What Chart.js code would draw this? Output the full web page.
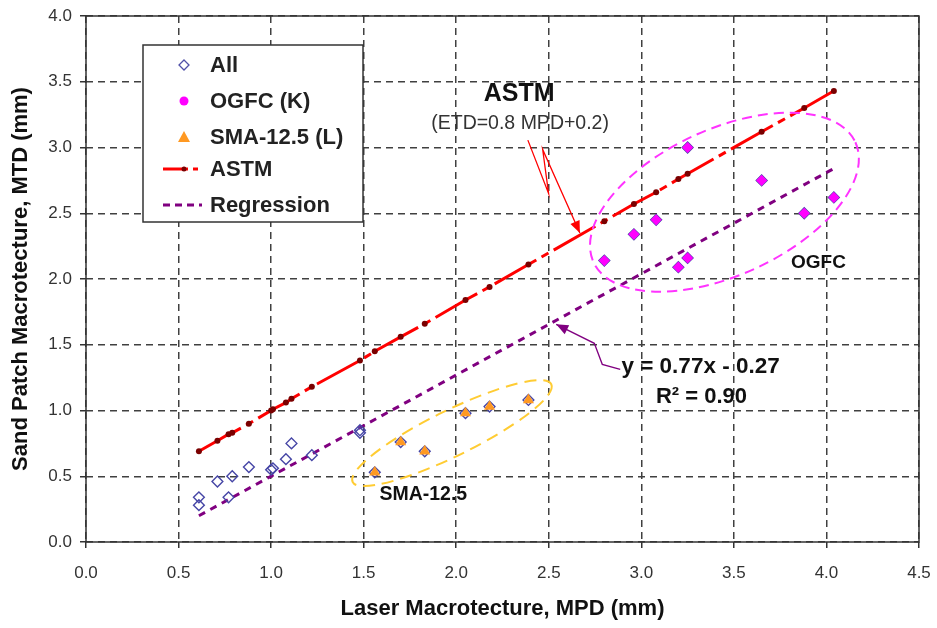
<!DOCTYPE html>
<html><head><meta charset="utf-8">
<script src="https://cdn.jsdelivr.net/npm/chart.js@4"></script>
<style>html,body{margin:0;padding:0;background:#fff}#wrap{width:937px;height:628px}</style>
</head><body><div id="wrap"><canvas id="c" width="937" height="628"></canvas></div>
<script>
// ---------------- data ----------------
const allOnlyMPD = [0.61, 0.61, 0.71, 0.77, 0.79, 0.88, 1.00, 1.01, 1.08, 1.11, 1.22, 1.48, 1.48];
const allOnlyMTD = [0.34, 0.28, 0.46, 0.34, 0.50, 0.57, 0.55, 0.56, 0.63, 0.75, 0.66, 0.83, 0.85];
const ogfcMPD = [2.80, 2.96, 3.08, 3.20, 3.25, 3.25, 3.65, 3.88, 4.04];
const ogfcMTD = [2.14, 2.34, 2.45, 2.09, 2.16, 3.00, 2.75, 2.50, 2.62];
const smaMPD = [1.56, 1.70, 1.83, 2.05, 2.18, 2.39];
const smaMTD = [0.53, 0.76, 0.69, 0.98, 1.03, 1.08];
const astmMPD = [0.61, 0.71, 0.77, 0.79, 0.88, 1.00, 1.01, 1.08, 1.11, 1.22, 1.48, 1.56, 1.70, 1.83, 2.05, 2.18, 2.39, 2.80, 2.96, 3.08, 3.20, 3.25, 3.65, 3.88, 4.04];
const astmMTD = [0.69, 0.77, 0.82, 0.83, 0.90, 1.00, 1.01, 1.06, 1.09, 1.18, 1.38, 1.45, 1.56, 1.66, 1.84, 1.94, 2.11, 2.44, 2.57, 2.66, 2.76, 2.80, 3.12, 3.30, 3.43];
const regMPD = [0.61, 4.04];
const regMTD = [0.20, 2.84];
const xTickLabels = ['0.0','0.5','1.0','1.5','2.0','2.5','3.0','3.5','4.0','4.5'];
const yTickLabels = ['0.0','0.5','1.0','1.5','2.0','2.5','3.0','3.5','4.0'];
const seriesNames = ['All', 'OGFC (K)', 'SMA-12.5 (L)', 'ASTM', 'Regression'];
const xTitle = 'Laser Macrotecture, MPD (mm)';
const yTitle = 'Sand Patch Macrotecture, MTD (mm)';

// ---------------- build ----------------
const pts = (xs, ys) => xs.map((x, i) => ({x, y: ys[i]}));
const allMPD = allOnlyMPD.concat(ogfcMPD, smaMPD);
const allMTD = allOnlyMTD.concat(ogfcMTD, smaMTD);

const FONT = '"Liberation Sans", Arial, sans-serif';

// annotations (placed in data coordinates)
const notes = {
  astmTitle: {x: 2.34, y: 3.405, text: 'ASTM', font: 'bold 25px ' + FONT, color: '#111'},
  astmEq: {x: 2.345, y: 3.18, text: '(ETD=0.8 MPD+0.2)', font: '19.5px ' + FONT, color: '#333'},
  regEq: {x: 3.32, y: 1.336, text: 'y = 0.77x - 0.27', font: 'bold 22.5px ' + FONT, color: '#111'},
  regR2: {x: 3.325, y: 1.10, text: 'R\u00B2 = 0.90', font: 'bold 22px ' + FONT, color: '#111'},
  ogfc: {x: 3.957, y: 2.12, text: 'OGFC', font: 'bold 19px ' + FONT, color: '#111'},
  sma: {x: 1.822, y: 0.36, text: 'SMA-12.5', font: 'bold 19.5px ' + FONT, color: '#111'}
};
const ellipses = [
  {cx: 3.449, cy: 2.584, a: 0.778, b: 0.395, rot: -24.6, color: '#FF33FF', dash: [10, 6]},
  {cx: 1.977, cy: 0.828, a: 0.598, b: 0.123, rot: -26.2, color: '#FFCC33', dash: [12, 7]}
];
const arrows = [
  {path: [[2.387, 3.056], [2.499, 2.650], [2.467, 2.985], [2.668, 2.35]], color: '#FF0000'},
  {path: [[2.886, 1.313], [2.789, 1.351], [2.746, 1.511], [2.54, 1.655]], color: '#800080'}
];

const overlay = {
  id: 'overlay',
  afterDraw(chart) {
    const ctx = chart.ctx, xs = chart.scales.x, ys = chart.scales.y, ca = chart.chartArea;
    const pxu = xs.getPixelForValue(1) - xs.getPixelForValue(0);
    ctx.save();
    ctx.strokeStyle = '#333'; ctx.lineWidth = 1.5; ctx.setLineDash([]);
    ctx.strokeRect(ca.left, ca.top, ca.right - ca.left, ca.bottom - ca.top);
    ellipses.forEach(e => {
      ctx.beginPath();
      ctx.ellipse(xs.getPixelForValue(e.cx), ys.getPixelForValue(e.cy), e.a * pxu, e.b * pxu, e.rot * Math.PI / 180, 0, 2 * Math.PI);
      ctx.setLineDash(e.dash); ctx.strokeStyle = e.color; ctx.lineWidth = 2; ctx.stroke();
    });
    ctx.setLineDash([]);
    arrows.forEach(a => {
      const p = a.path.map(q => [xs.getPixelForValue(q[0]), ys.getPixelForValue(q[1])]);
      ctx.strokeStyle = a.color; ctx.fillStyle = a.color; ctx.lineWidth = 1.3;
      ctx.beginPath(); ctx.moveTo(p[0][0], p[0][1]);
      for (let i = 1; i < p.length; i++) ctx.lineTo(p[i][0], p[i][1]);
      ctx.stroke();
      const t = p[p.length - 1], s = p[p.length - 2];
      const ang = Math.atan2(t[1] - s[1], t[0] - s[0]);
      const L = 12, W = 5;
      ctx.beginPath();
      ctx.moveTo(t[0], t[1]);
      ctx.lineTo(t[0] - L * Math.cos(ang) + W * Math.sin(ang), t[1] - L * Math.sin(ang) - W * Math.cos(ang));
      ctx.lineTo(t[0] - L * Math.cos(ang) - W * Math.sin(ang), t[1] - L * Math.sin(ang) + W * Math.cos(ang));
      ctx.closePath(); ctx.fill();
    });
    ctx.textAlign = 'center'; ctx.textBaseline = 'middle';
    Object.values(notes).forEach(n => {
      ctx.font = n.font; ctx.fillStyle = n.color;
      ctx.fillText(n.text, xs.getPixelForValue(n.x), ys.getPixelForValue(n.y));
    });
    // legend
    const L0 = ca.left + 57, T0 = ca.top + 29, LW = 220, LH = 177;
    ctx.fillStyle = '#fff'; ctx.fillRect(L0, T0, LW, LH);
    ctx.strokeStyle = '#333'; ctx.lineWidth = 1.5; ctx.strokeRect(L0, T0, LW, LH);
    const mx = L0 + 41, tx = L0 + 67;
    const rowY = [T0 + 20, T0 + 56, T0 + 92, T0 + 124, T0 + 160];
    ctx.textAlign = 'left'; ctx.textBaseline = 'middle';
    ctx.font = 'bold 22px ' + FONT; ctx.fillStyle = '#222';
    seriesNames.forEach((nm, i) => ctx.fillText(nm, tx, rowY[i] + 1));
    let y = rowY[0];
    ctx.strokeStyle = '#5050A8'; ctx.lineWidth = 1.3;
    ctx.beginPath(); ctx.moveTo(mx, y - 5); ctx.lineTo(mx + 5, y); ctx.lineTo(mx, y + 5); ctx.lineTo(mx - 5, y); ctx.closePath(); ctx.stroke();
    y = rowY[1]; ctx.fillStyle = '#FF00FF'; ctx.beginPath(); ctx.arc(mx, y, 4.5, 0, 2 * Math.PI); ctx.fill();
    y = rowY[2]; ctx.fillStyle = '#FF9922'; ctx.beginPath(); ctx.moveTo(mx, y - 6); ctx.lineTo(mx + 6, y + 5); ctx.lineTo(mx - 6, y + 5); ctx.closePath(); ctx.fill();
    y = rowY[3]; ctx.strokeStyle = '#FF0000'; ctx.lineWidth = 3;
    ctx.beginPath(); ctx.moveTo(mx - 21, y); ctx.lineTo(mx + 4, y); ctx.stroke();
    ctx.beginPath(); ctx.moveTo(mx + 9, y); ctx.lineTo(mx + 14, y); ctx.stroke();
    ctx.fillStyle = '#7A0000'; ctx.beginPath(); ctx.arc(mx, y, 2.5, 0, 2 * Math.PI); ctx.fill();
    y = rowY[4]; ctx.strokeStyle = '#800080'; ctx.lineWidth = 3; ctx.setLineDash([7, 5]);
    ctx.beginPath(); ctx.moveTo(mx - 21, y); ctx.lineTo(mx + 18, y); ctx.stroke();
    ctx.restore();
  }
};

new Chart(document.getElementById('c'), {
  type: 'scatter',
  data: {
    datasets: [
      {label: seriesNames[2], data: pts(smaMPD, smaMTD), pointStyle: 'triangle', pointRadius: 6.4, backgroundColor: '#FF9922', borderColor: '#FF9922', borderWidth: 0},
      {label: seriesNames[1], data: pts(ogfcMPD, ogfcMTD), pointStyle: 'rectRot', pointRadius: 5.6, backgroundColor: '#FF00FF', borderColor: '#FF00FF', borderWidth: 0},
      {label: seriesNames[0], data: pts(allMPD, allMTD), pointStyle: 'rectRot', pointRadius: 5.4, backgroundColor: 'rgba(0,0,0,0)', borderColor: '#4646A6', borderWidth: 1.4},
      {label: seriesNames[3], type: 'line', data: pts(astmMPD, astmMTD), borderColor: '#FF0000', borderWidth: 3, borderDash: [48, 6, 8, 6], pointRadius: 3, pointBackgroundColor: '#7A0000', pointBorderWidth: 0, fill: false, tension: 0},
      {label: seriesNames[4], type: 'line', data: pts(regMPD, regMTD), borderColor: '#800080', borderWidth: 3, borderDash: [7, 6], pointRadius: 0, fill: false, tension: 0}
    ]
  },
  options: {
    responsive: false, animation: false, devicePixelRatio: 1,
    layout: {padding: {left: 0, top: 16, right: 18, bottom: 0}},
    plugins: {legend: {display: false}, tooltip: {enabled: false}},
    scales: {
      x: {
        type: 'linear', min: 0, max: 4.5,
        afterFit: s => { s.height = 86; s.paddingRight = 0; s.paddingLeft = 0; },
        afterBuildTicks: s => { s.ticks = xTickLabels.map(t => ({value: parseFloat(t)})); },
        ticks: {callback: (v, i) => xTickLabels[i], font: {family: FONT, size: 17}, color: '#333', padding: 15, maxRotation: 0},
        grid: {color: '#404040', lineWidth: 1.5, borderDash: [7, 5], tickLength: 6, tickColor: '#333', tickBorderDash: [], tickWidth: 1.5},
        border: {display: false, dash: [7, 5]},
        title: {display: true, text: xTitle, font: {family: FONT, size: 22, weight: 'bold'}, color: '#111', padding: {top: 0, bottom: 6}}
      },
      y: {
        type: 'linear', min: 0, max: 4,
        afterFit: s => { s.width = 86; s.paddingTop = 0; s.paddingBottom = 0; },
        afterBuildTicks: s => { s.ticks = yTickLabels.map(t => ({value: parseFloat(t)})); },
        ticks: {callback: (v, i) => yTickLabels[i], font: {family: FONT, size: 17}, color: '#333', padding: 8},
        grid: {color: '#404040', lineWidth: 1.5, borderDash: [7, 5], tickLength: 6, tickColor: '#333', tickBorderDash: [], tickWidth: 1.5},
        border: {display: false, dash: [7, 5]},
        title: {display: true, text: yTitle, font: {family: FONT, size: 22, weight: 'bold'}, color: '#111', padding: {top: 8, bottom: 0}}
      }
    }
  },
  plugins: [overlay]
});
</script>
</body></html>
